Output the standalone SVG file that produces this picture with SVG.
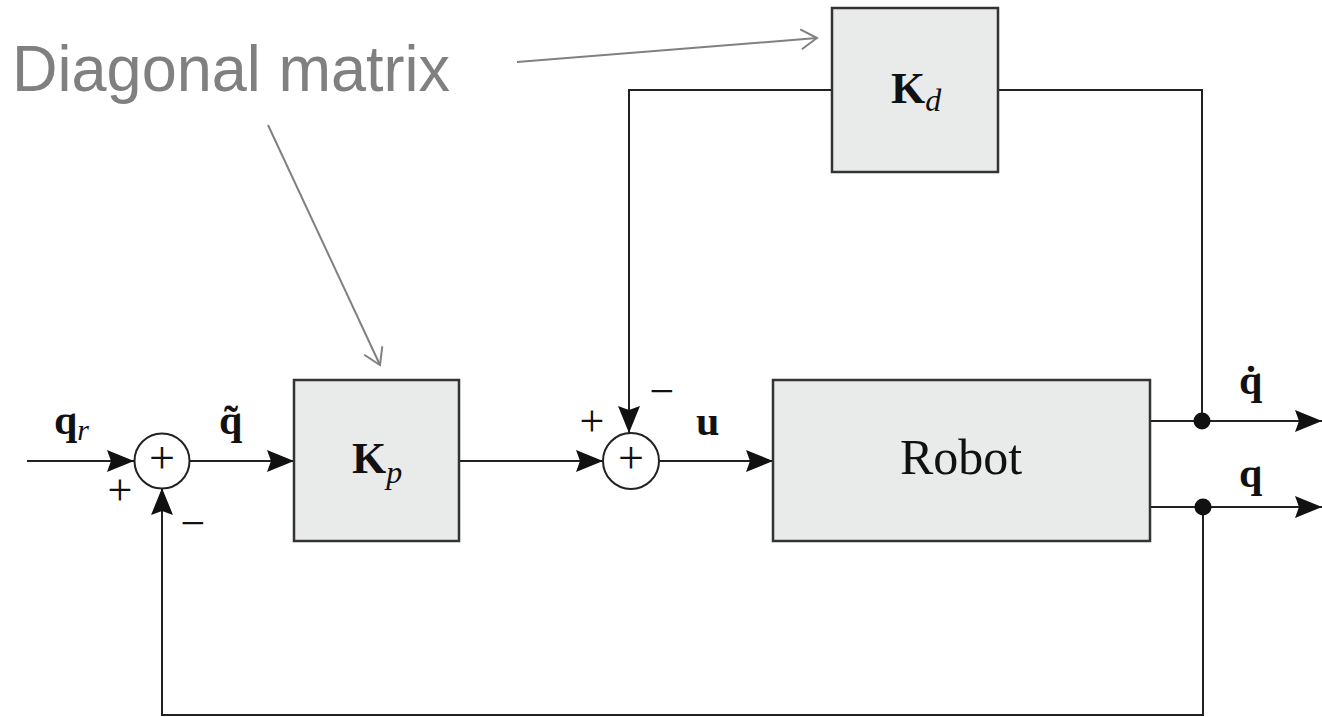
<svg xmlns="http://www.w3.org/2000/svg" width="1322" height="717" viewBox="0 0 1322 717">
<style>
.box{fill:#e9ebeb;stroke:#333;stroke-width:2.5}
.sum{fill:#fff;stroke:#222;stroke-width:2}
.wire{fill:none;stroke:#222;stroke-width:2}
.note{fill:none;stroke:#808080;stroke-width:2}
.m{font-family:"Liberation Serif",serif;fill:#111}
.b{font-weight:bold}
.i{font-style:italic}
.ann{font-family:"Liberation Sans",sans-serif;fill:#808080}
</style>
<defs>
<marker id="ah" markerUnits="userSpaceOnUse" markerWidth="27" markerHeight="22" refX="27" refY="11" orient="auto">
<path d="M0,0 L27,11 L0,22 L4,11 z" fill="#111"/>
</marker>
<marker id="oh" markerUnits="userSpaceOnUse" markerWidth="20" markerHeight="24" refX="18" refY="12" orient="auto">
<path d="M2,2 L18,12 L2,22" fill="none" stroke="#808080" stroke-width="2"/>
</marker>
</defs>
<g id="connectors">
<path class="wire" d="M27,461 H134" marker-end="url(#ah)"/>
<path class="wire" d="M190,461 H294" marker-end="url(#ah)"/>
<path class="wire" d="M459,461 H603" marker-end="url(#ah)"/>
<path class="wire" d="M659,461 H773" marker-end="url(#ah)"/>
<path class="wire" d="M1150,421 H1322" marker-end="url(#ah)"/>
<path class="wire" d="M1150,507 H1322" marker-end="url(#ah)"/>
<path class="wire" d="M1202,421 V90 H998"/>
<path class="wire" d="M832,90 H629 V433" marker-end="url(#ah)"/>
<path class="wire" d="M1203,507 V715 H162 V488" marker-end="url(#ah)"/>
<circle cx="1202" cy="421" r="8.5" fill="#111"/>
<circle cx="1203" cy="507" r="8.5" fill="#111"/>
<path class="note" d="M517,62 L817,38" marker-end="url(#oh)"/>
<path class="note" d="M268,125 L380,365" marker-end="url(#oh)"/>
</g>
<g id="annotation">
<text class="ann" x="12" y="91" font-size="64" textLength="438" lengthAdjust="spacingAndGlyphs">Diagonal matrix</text>
</g>
<g id="sum1">
<circle class="sum" cx="162" cy="461" r="27.5"/>
<text class="m" x="162" y="473" font-size="46" text-anchor="middle">+</text>
</g>
<g id="sum2">
<circle class="sum" cx="631" cy="461" r="28"/>
<text class="m" x="631" y="473" font-size="46" text-anchor="middle">+</text>
</g>
<g id="Kp">
<rect class="box" x="294" y="380" width="165" height="161"/>
<text class="m" x="352" y="473" font-size="44"><tspan class="b">K</tspan><tspan class="i" font-size="32" dy="10">p</tspan></text>
</g>
<g id="Kd">
<rect class="box" x="832" y="8" width="166" height="164"/>
<text class="m" x="891" y="103" font-size="44"><tspan class="b">K</tspan><tspan class="i" font-size="32" dy="8">d</tspan></text>
</g>
<g id="Robot">
<rect class="box" x="773" y="380" width="377" height="161"/>
<text class="m" x="961" y="474" font-size="50" text-anchor="middle">Robot</text>
</g>
<g id="labels">
<text class="m" x="54" y="434" font-size="42"><tspan class="b">q</tspan><tspan class="i" font-size="30" dy="6">r</tspan></text>
<text class="m" x="120" y="505" font-size="44" text-anchor="middle">+</text>
<text class="m" x="193" y="538" font-size="44" text-anchor="middle">−</text>
<text class="m b" x="219" y="434" font-size="42">q̃</text>
<text class="m" x="592" y="436" font-size="44" text-anchor="middle">+</text>
<text class="m" x="662" y="406" font-size="44" text-anchor="middle">−</text>
<text class="m b" x="696" y="435" font-size="42">u</text>
<text class="m b" x="1239" y="394" font-size="42">q̇</text>
<text class="m b" x="1239" y="487" font-size="42">q</text>
</g>
</svg>
